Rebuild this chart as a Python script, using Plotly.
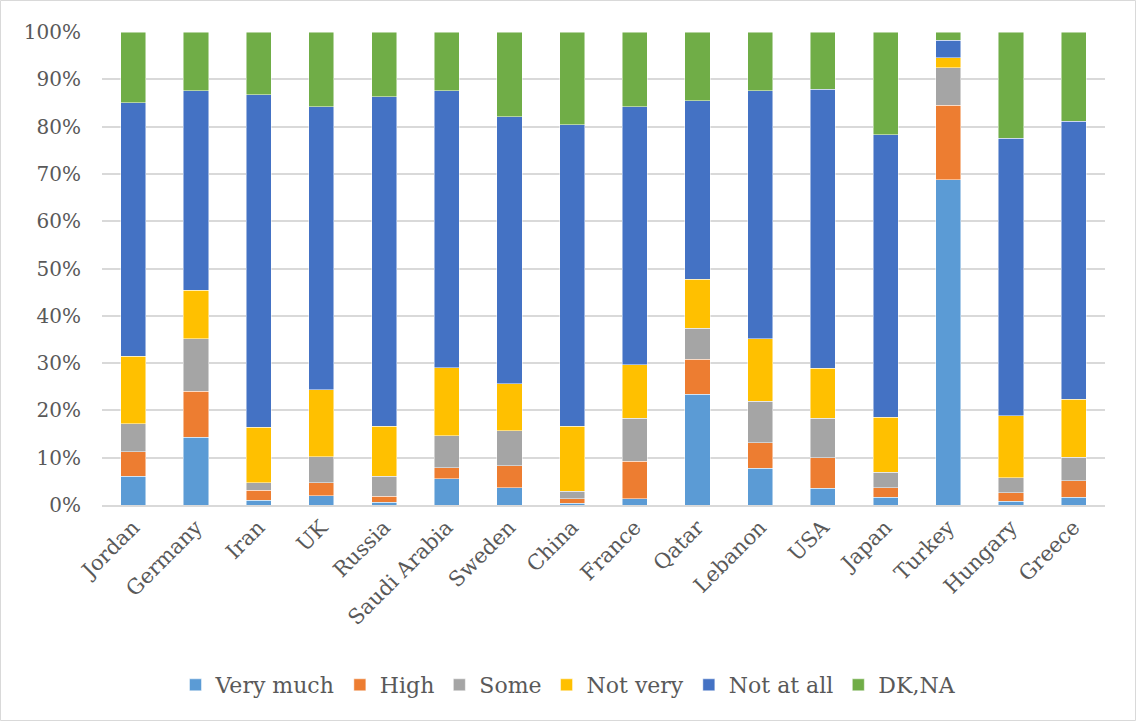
import plotly.graph_objects as go

countries = ["Jordan", "Germany", "Iran", "UK", "Russia", "Saudi Arabia", "Sweden", "China",
             "France", "Qatar", "Lebanon", "USA", "Japan", "Turkey", "Hungary", "Greece"]

very_much = [6.1, 14.3, 1.0, 2.0, 0.6, 5.6, 3.7, 0.4, 1.3, 23.4, 7.8, 3.5, 1.6, 68.8, 0.8, 1.6]
high      = [5.2, 9.8, 2.1, 2.7, 1.2, 2.3, 4.6, 0.9, 7.9, 7.4, 5.4, 6.5, 2.1, 15.7, 1.8, 3.5]
some      = [5.9, 11.1, 1.6, 5.5, 4.3, 6.7, 7.4, 1.6, 9.1, 6.6, 8.7, 8.3, 3.2, 7.9, 3.2, 5.0]
not_very  = [14.3, 10.2, 11.7, 14.2, 10.6, 14.4, 9.9, 13.8, 11.4, 10.3, 13.3, 10.6, 11.7, 2.2, 13.1, 12.3]
not_at_all = [53.5, 42.2, 70.3, 59.8, 69.6, 58.6, 56.5, 63.7, 54.5, 37.8, 52.4, 59.0, 59.7, 3.7, 58.6, 58.7]
dk_na     = [15.0, 12.4, 13.3, 15.8, 13.7, 12.4, 17.9, 19.6, 15.8, 14.5, 12.4, 12.1, 21.7, 1.7, 22.5, 18.9]

series = [
    ("Very much", very_much, "#5B9BD5"),
    ("High", high, "#ED7D31"),
    ("Some", some, "#A5A5A5"),
    ("Not very", not_very, "#FFC000"),
    ("Not at all", not_at_all, "#4472C4"),
    ("DK,NA", dk_na, "#70AD47"),
]

FONT = "DejaVu Serif"
W, H = 1137, 722
L, R, T, B = 102, 32, 32, 217
PW, PH = W - L - R, H - T - B

fig = go.Figure()
for name, vals, color in series:
    fig.add_trace(go.Bar(
        x=countries, y=[v / 100 for v in vals], name=name,
        marker=dict(color=color, line=dict(color="rgba(255,255,255,0.6)", width=0.8)),
    ))

fig.update_layout(
    barmode="stack",
    bargap=0.6,
    width=W, height=H,
    margin=dict(l=L, r=R, t=T, b=B, autoexpand=False),
    paper_bgcolor="white",
    plot_bgcolor="white",
    font=dict(family=FONT, size=20, color="#595959"),
    xaxis=dict(tickangle=-45, showgrid=False, showline=True, linecolor="#d9d9d9",
               linewidth=1.5, ticks="", tickfont=dict(size=21, color="#595959")),
    yaxis=dict(range=[0, 1.0], tickformat=".0%", dtick=0.1, showgrid=True,
               gridcolor="#d9d9d9", gridwidth=1.5, zeroline=False, ticks="",
               ticklabelstandoff=20,
               tickfont=dict(size=20, color="#595959")),
    legend=dict(orientation="h", x=0.5 * W / PW - L / PW, xanchor="center",
                y=(H - B - 685) / PH, yanchor="middle",
                font=dict(size=22, color="#595959"), traceorder="normal",
                itemwidth=30, bgcolor="rgba(0,0,0,0)"),
    shapes=[dict(type="rect", xref="paper", yref="paper",
                 x0=(0.5 - L) / PW, x1=(W - 1.5 - L) / PW,
                 y0=(H - B - (H - 1.5)) / PH, y1=(H - B - 0.5) / PH,
                 line=dict(color="#d9d9d9", width=1), layer="below")],
)

fig.write_html("out.html", config={"displayModeBar": False},
               post_script="document.body.style.margin='0';")
